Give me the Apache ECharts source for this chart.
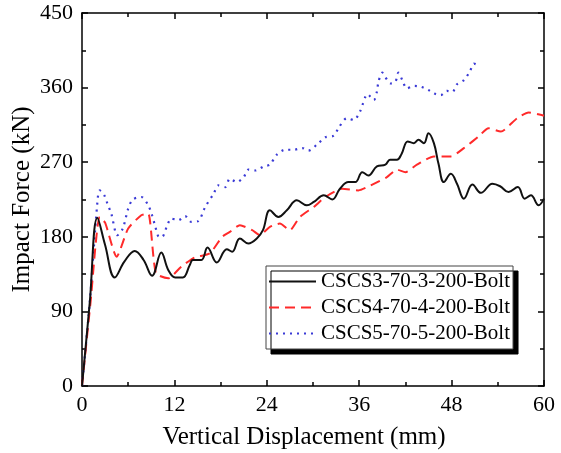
<!DOCTYPE html>
<html>
<head>
<meta charset="utf-8">
<script src="https://cdn.jsdelivr.net/npm/echarts@6/dist/echarts.min.js"></script>
<style>
  html, body { margin: 0; padding: 0; background: #fff; }
  #main { width: 561px; height: 453px; }
</style>
</head>
<body>
<div id="main"></div>
<script>
// CSCS3 curve (black solid)
var dispS3 = [0, 1.0, 2.0, 3.0, 4.25, 5.5, 6.85, 8.0, 9.1, 10.3, 11.2, 12.1, 13.1, 14.0, 14.4, 15.5, 16.3, 17.5, 18.8, 19.5, 20.5, 21.6, 22.7, 23.5, 24.4, 25.5, 26.6, 27.9, 29.2, 30.1, 31.4, 32.5, 33.5, 34.6, 35.5, 36.4, 37.2, 38.3, 39.4, 40.0, 40.9, 41.5, 42.3, 43.1, 43.7, 44.4, 45.0, 45.7, 46.3, 47.0, 47.9, 48.7, 49.6, 50.7, 51.8, 53.3, 54.3, 55.4, 56.6, 57.5, 58.3, 59.3, 60];
var forceS3 = [0, 100, 203, 170, 131, 150, 163, 152, 133, 161, 140, 131, 131, 146, 152, 152, 167, 149, 165, 162, 178, 172, 178, 188, 212, 204, 212, 224, 218, 222, 230, 225, 238, 246, 246, 258, 254, 265, 267, 273, 273, 280, 295, 293, 297, 293, 305, 293, 268, 246, 256, 244, 226, 243, 233, 244, 241, 234, 240, 226, 230, 218, 226];

// CSCS4 curve (red dashed)
var dispS4 = [0, 1.1, 2.3, 3.0, 4.5, 6.0, 7.7, 8.6, 9.6, 11.2, 12.9, 14.6, 16.6, 18.2, 19.2, 20.5, 22.1, 23.1, 24.4, 25.7, 27.0, 28.3, 30.1, 31.6, 33.8, 35.9, 37.5, 39.6, 40.9, 42.0, 43.5, 45.7, 47.9, 49.6, 51.5, 52.8, 54.4, 56.5, 58.0, 60];
var forceS4 = [0, 100, 204, 197, 156, 190, 206, 208, 136, 130, 144, 155, 160, 180, 186, 194, 188, 182, 192, 196, 188, 204, 216, 228, 238, 236, 242, 252, 261, 258, 267, 277, 277, 287, 301, 311, 307, 323, 330, 326];

// CSCS5 curve (blue dotted)
var dispS5 = [0, 1.0, 2.0, 2.3, 2.9, 3.3, 3.8, 4.6, 5.3, 6.0, 6.6, 7.7, 8.6, 9.1, 9.5, 10.0, 10.4, 11.0, 11.6, 12.5, 13.4, 14.2, 15.1, 16.0, 17.1, 17.7, 18.6, 19.2, 20.1, 21.0, 21.6, 22.5, 23.6, 24.4, 25.3, 26.4, 27.5, 28.6, 29.4, 30.6, 31.6, 32.7, 33.3, 34.4, 35.3, 36.1, 37.1, 37.9, 38.3, 38.5, 39.0, 39.3, 40.1, 40.7, 41.1, 41.6, 42.2, 43.1, 44.0, 45.0, 45.7, 46.6, 47.4, 48.1, 48.7, 49.6, 50.4, 50.9, 51.2];
var forceS5 = [0, 100, 222, 236, 230, 220, 208, 182, 190, 214, 225, 228, 218, 206, 193, 180, 180, 192, 202, 200, 205, 198, 199, 216, 232, 242, 240, 250, 246, 252, 261, 260, 265, 267, 279, 285, 285, 287, 284, 292, 300, 302, 311, 323, 321, 331, 352, 345, 355, 367, 378, 374, 365, 367, 378, 369, 359, 362, 361, 357, 353, 351, 356, 355, 364, 369, 380, 389, 388];

var seriesNames = ['CSCS3-70-3-200-Bolt', 'CSCS4-70-4-200-Bolt', 'CSCS5-70-5-200-Bolt'];
var xTicks = [0, 12, 24, 36, 48, 60];
var yTicks = [0, 90, 180, 270, 360, 450];

function pairs(xs, ys) {
  var out = [];
  for (var i = 0; i < xs.length; i++) out.push([xs[i], ys[i]]);
  return out;
}

var font = '"Liberation Serif", "DejaVu Serif", serif';
var tickStyle = { color: '#000', width: 1.5 };

function xAx(pos, showLabel) {
  return {
    type: 'value', position: pos, min: xTicks[0], max: xTicks[xTicks.length - 1], interval: 12,
    axisLine: { onZero: false, lineStyle: tickStyle },
    axisTick: { inside: true, length: 6, lineStyle: tickStyle },
    minorTick: { show: true, splitNumber: 2, length: 4, lineStyle: tickStyle },
    splitLine: { show: false },
    axisLabel: { show: showLabel, color: '#000', fontFamily: font, fontSize: 22, margin: 8 },
    name: showLabel ? 'Vertical Displacement (mm)' : '',
    nameLocation: 'middle', nameGap: 39,
    nameTextStyle: { color: '#000', fontFamily: font, fontSize: 25, padding: [0, 18, 0, 0] }
  };
}
function yAx(pos, showLabel) {
  return {
    type: 'value', position: pos, min: yTicks[0], max: yTicks[yTicks.length - 1], interval: 90,
    axisLine: { onZero: false, lineStyle: tickStyle },
    axisTick: { inside: true, length: 6, lineStyle: tickStyle },
    minorTick: { show: true, splitNumber: 2, length: 4, lineStyle: tickStyle },
    splitLine: { show: false },
    axisLabel: { show: showLabel, color: '#000', fontFamily: font, fontSize: 22, margin: 9 },
    name: showLabel ? 'Impact Force (kN)' : '',
    nameLocation: 'middle', nameGap: 47, nameMoveOverlap: false,
    nameTextStyle: { color: '#000', fontFamily: font, fontSize: 25 }
  };
}

var chart = echarts.init(document.getElementById('main'));
chart.setOption({
  animation: false,
  backgroundColor: '#fff',
  grid: { left: 82, right: 17, top: 13, bottom: 67, outerBoundsMode: 'none' },
  xAxis: [xAx('bottom', true), xAx('top', false)],
  yAxis: [yAx('left', true), yAx('right', false)],
  legend: {
    orient: 'vertical', left: 266, top: 266,
    itemWidth: 47, itemHeight: 14, itemGap: 5,
    padding: [5, 3, 5, 2],
    backgroundColor: '#fff', borderColor: '#444', borderWidth: 1,
    shadowColor: '#000', shadowBlur: 0, shadowOffsetX: 5, shadowOffsetY: 5,
    itemStyle: { opacity: 0 },
    textStyle: { color: '#000', fontFamily: font, fontSize: 21, lineHeight: 20 },
    data: seriesNames
  },
  series: [
    {
      name: seriesNames[0], type: 'line', symbol: 'none', smooth: 0.4,
      data: pairs(dispS3, forceS3), z: 3,
      itemStyle: { color: '#111' },
      lineStyle: { color: '#111', width: 2 }
    },
    {
      name: seriesNames[1], type: 'line', symbol: 'none', smooth: 0.2,
      data: pairs(dispS4, forceS4), z: 2,
      itemStyle: { color: '#ff2a2a' },
      lineStyle: { color: '#ff2a2a', width: 2, type: [10, 6] }
    },
    {
      name: seriesNames[2], type: 'line', symbol: 'none', smooth: 0.3,
      data: pairs(dispS5, forceS5), z: 1,
      itemStyle: { color: '#3a3ad6' },
      lineStyle: { color: '#3a3ad6', width: 2.2, type: [2, 5] }
    }
  ]
});
</script>
</body>
</html>
